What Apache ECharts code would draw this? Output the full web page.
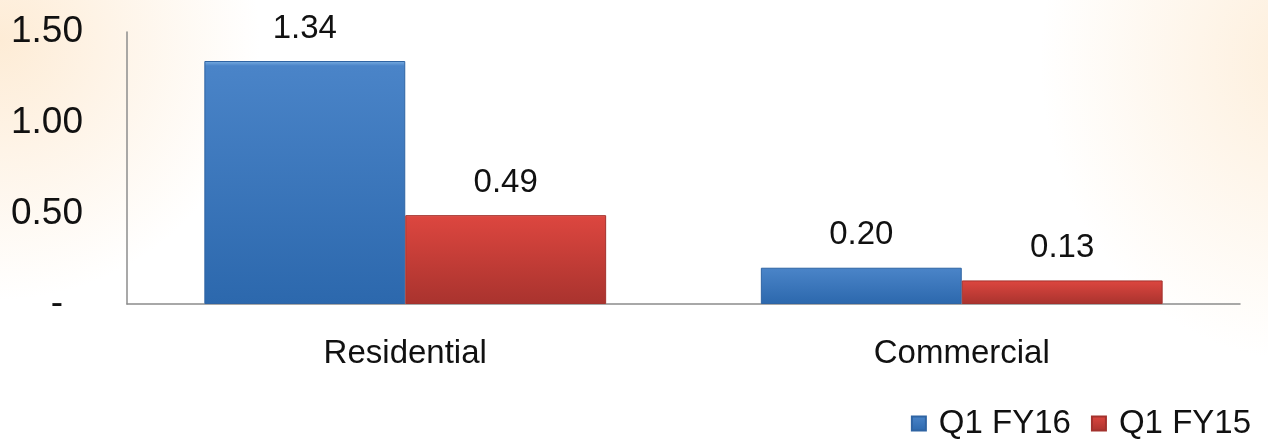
<!DOCTYPE html>
<html><head><meta charset="utf-8">
<script src="https://cdn.jsdelivr.net/npm/echarts@6/dist/echarts.min.js"></script>
<style>
html,body{margin:0;padding:0;}
#c{width:1268px;height:446px;
background:
 radial-gradient(ellipse 260px 260px at 0px 40px, rgba(252,220,180,0.55), rgba(255,255,255,0) 100%),
 radial-gradient(ellipse 260px 300px at 1300px 60px, rgba(252,225,190,0.55), rgba(255,255,255,0) 100%),
 #ffffff;}
</style></head>
<body><div id="c"></div>
<script>
const categories = ['Residential', 'Commercial'];
const seriesNames = ['Q1 FY16', 'Q1 FY15'];
const fy16 = [1.34, 0.20];
const fy15 = [0.49, 0.13];
const yTicks = [0, 0.5, 1.0, 1.5];

const narrow = '"Liberation Sans Narrow","Arial Narrow","Liberation Sans",Arial,sans-serif';
const regular = '"Liberation Sans",Arial,sans-serif';

function grad(top, mid, bot) {
  return new echarts.graphic.LinearGradient(0, 0, 0, 1, [
    {offset: 0, color: top}, {offset: 0.02, color: mid}, {offset: 1, color: bot}
  ]);
}
const blueFill = grad('#7aaee2', '#4a84c8', '#2c68ad');
const redFill = grad('#ee7a74', '#dc463f', '#a9332e');

const chart = echarts.init(document.getElementById('c'), null, {renderer: 'canvas'});
const labelStyle = {show: true, position: 'top', distance: 16, fontFamily: narrow, fontSize: 33, color: '#111',
  formatter: p => p.value.toFixed(2)};
chart.setOption({
  backgroundColor: 'transparent',
  animation: false,
  grid: {left: 127, right: 28, top: 32, bottom: 142},
  legend: {
    right: 12, bottom: 1, itemWidth: 14, itemHeight: 14, itemGap: 20,
    icon: 'rect',
    textStyle: {fontFamily: narrow, fontSize: 33, color: '#111', padding: [0, 0, 0, 8]},
    data: seriesNames
  },
  xAxis: {
    type: 'category', data: categories,
    axisLine: {lineStyle: {color: '#8c8c8c', width: 1.5}},
    axisTick: {show: false},
    axisLabel: {fontFamily: narrow, fontSize: 33, color: '#111', margin: 33}
  },
  yAxis: {
    type: 'value', min: yTicks[0], max: yTicks[yTicks.length - 1], interval: 0.5,
    axisLine: {show: true, lineStyle: {color: '#8c8c8c', width: 1.5}},
    axisTick: {show: false},
    splitLine: {show: false},
    axisLabel: {
      fontFamily: regular, fontSize: 37, color: '#111', margin: 44,
      formatter: v => v === 0 ? '{d|-}' : v.toFixed(2),
      rich: {d: {fontFamily: regular, fontSize: 37, color: '#111', padding: [0, 20, 0, 0]}}
    }
  },
  series: [
    {name: seriesNames[0], type: 'bar', data: fy16, barGap: '0%', barCategoryGap: '27.8%',
     itemStyle: {color: blueFill, borderColor: '#2f64a3', borderWidth: 1}, label: labelStyle},
    {name: seriesNames[1], type: 'bar', data: fy15,
     itemStyle: {color: redFill, borderColor: '#a3322d', borderWidth: 1}, label: labelStyle}
  ]
});
</script></body></html>
